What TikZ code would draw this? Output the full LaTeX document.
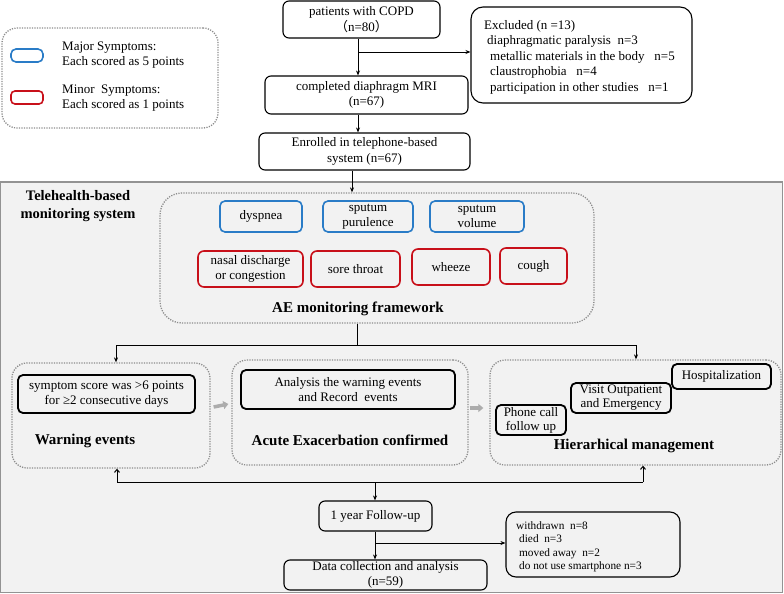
\documentclass[tikz,border=0pt]{standalone}
\usepackage{fontspec}
\setmainfont{Liberation Serif}
\newfontfamily\cjk{Noto Sans CJK SC}
\usetikzlibrary{arrows.meta}
\definecolor{mblue}{HTML}{2A7CC7}
\definecolor{mred}{HTML}{C8101A}
\definecolor{bggray}{HTML}{F2F2F2}
\definecolor{dotgray}{HTML}{8C8C8C}
\tikzset{
  bx/.style={draw=black, line width=1.1pt, rounded corners=6pt, inner sep=0pt, align=center, font=\fontsize{13}{15.5}\selectfont},
  bxk/.style={draw=black, line width=1.8pt, rounded corners=5pt, inner sep=0pt, align=center, font=\fontsize{13}{15.5}\selectfont},
  bb/.style={draw=mblue, line width=1.6pt, rounded corners=5pt, inner sep=0pt, align=center, font=\fontsize{13}{15.5}\selectfont},
  rb/.style={draw=mred, line width=1.6pt, rounded corners=6pt, inner sep=0pt, align=center, font=\fontsize{13}{15.5}\selectfont},
  frame/.style={draw=dotgray, line width=1.3pt, dash pattern=on 1.2pt off 1.3pt, rounded corners=#1, inner sep=0pt},
  hd/.style={font=\bfseries\fontsize{15}{17}\selectfont, inner sep=0pt, align=center},
  arr/.style={-{Stealth[length=5pt,width=4pt]}, line width=0.8pt},
  uarr/.style={-{Straight Barb[length=3pt,width=5pt]}, line width=1pt},
  garr/.style={line width=3.5pt, draw=gray!65, -{Triangle[length=5pt,width=8pt]}},
}
\begin{document}
\begin{tikzpicture}[x=1pt,y=-1pt]
\useasboundingbox (0,0) rectangle (784,594);
% gray area
\path[fill=bggray, draw=gray!85, line width=1.2pt] (0,182) rectangle (782.5,592.5);
% legend
\node[frame=15pt, minimum width=216pt, minimum height=100pt] (leg) at (110,78) {};
\node[bb, minimum width=32pt, minimum height=13pt] (lb) at (27,55.5) {};
\node[rb, minimum width=32pt, minimum height=13pt, rounded corners=4pt] (lr) at (27,97.5) {};
\node[anchor=west, align=left, inner sep=0pt, font=\fontsize{13}{15.5}\selectfont] (lbt) at (62,55) {Major Symptoms:\\Each scored as 5 points};
\node[anchor=west, align=left, inner sep=0pt, font=\fontsize{13}{15.5}\selectfont] (lrt) at (62,98) {Minor\ \ Symptoms:\\Each scored as 1 points};
% top flow
\node[bx, minimum width=157pt, minimum height=37pt] (copd) at (361.5,19.5) {patients with COPD\\{\cjk （}n=80{\cjk ）}};
\node[bx, rounded corners=12pt, minimum width=221pt, minimum height=96pt] (excl) at (581.5,55) {};
\node[anchor=west, inner sep=0pt, align=left, font=\fontsize{13}{15.5}\selectfont] (exclt) at (484,57) {Excluded (n =13)\\\hspace*{3pt}diaphragmatic paralysis\ \ n=3\\\hspace*{6pt}metallic materials in the body\ \ \ n=5\\\hspace*{6pt}claustrophobia\ \ \ n=4\\\hspace*{6pt}participation in other studies\ \ \ n=1};
\node[bx, minimum width=203pt, minimum height=38pt] (mri) at (366.5,95) {completed diaphragm MRI\\(n=67)};
\node[bx, minimum width=211pt, minimum height=37pt] (enr) at (364.5,151.5) {Enrolled in telephone-based\\system (n=67)};
\coordinate (ax) at (358,0);
\coordinate (ax2) at (352,0);
\coordinate (b1) at (358,52);
\draw[arr] (copd.south -| ax) -- (mri.north -| ax);
\draw[arr] (b1) -- (b1 -| excl.west);
\draw[arr] (mri.south -| ax) -- (enr.north -| ax);
% telehealth
\node[font=\bfseries\fontsize{14.5}{18}\selectfont, align=center, inner sep=0pt] (tele) at (78,206) {Telehealth-based\\monitoring system};
\node[frame=22pt, minimum width=434pt, minimum height=130pt] (ae) at (377,258) {};
\draw[arr] (enr.south -| ax2) -- (ae.north -| ax2);
\node[bb, minimum width=82pt, minimum height=31pt] (dysp) at (261,216.5) {dyspnea};
\node[bb, minimum width=90pt, minimum height=31pt, font=\fontsize{13}{14.5}\selectfont] (purul) at (368,216.5) {sputum\\purulence};
\node[bb, minimum width=94pt, minimum height=31pt, font=\fontsize{13}{14.5}\selectfont] (vol) at (477,216.5) {sputum\\volume};
\node[rb, minimum width=105pt, minimum height=36pt, font=\fontsize{13}{15}\selectfont] (nasal) at (250.5,269) {nasal discharge\\or congestion};
\node[rb, minimum width=89pt, minimum height=36pt] (sore) at (355.5,269) {sore throat};
\node[rb, minimum width=78pt, minimum height=36pt] (wheeze) at (451,267) {wheeze};
\node[rb, minimum width=67pt, minimum height=36pt] (cough) at (533.5,266) {cough};
\node[hd] (aet) at (358,309) {AE monitoring framework};
% middle
\node[frame=15pt, minimum width=198pt, minimum height=105pt] (warn) at (111,415.5) {};
\node[frame=15pt, minimum width=236pt, minimum height=105pt] (acute) at (350,412.5) {};
\node[frame=15pt, minimum width=291pt, minimum height=105pt] (hier) at (635.5,412.5) {};
\coordinate (j1) at (357,345);
\coordinate (wl) at (116,345);
\coordinate (hr) at (636,345);
\draw[line width=0.8pt] (ae.south -| j1) -- (j1);
\draw[line width=0.8pt] (wl) -- (hr);
\draw[arr] (wl) -- (wl |- warn.north);
\draw[arr] (hr) -- (hr |- hier.north);
\node[bxk, minimum width=177pt, minimum height=38pt, font=\fontsize{13}{15.5}\selectfont] (wbox) at (106.5,394) {symptom score was >6 points\\for ≥2 consecutive days};
\node[hd] (wt) at (85,441) {Warning events};
\node[bxk, minimum width=214pt, minimum height=39pt, font=\fontsize{13}{15.5}\selectfont] (abox) at (348,389.5) {Analysis the warning events\\and Record\ \ events};
\node[hd] (at) at (350,440) {Acute Exacerbation confirmed};
\node[bxk, minimum width=70pt, minimum height=30pt, font=\fontsize{13}{14}\selectfont] (phone) at (531,420) {Phone call\\follow up};
\node[bxk, minimum width=100pt, minimum height=30pt, font=\fontsize{13}{14}\selectfont] (visit) at (621,398) {Visit Outpatient\\and Emergency};
\node[bxk, minimum width=99pt, minimum height=25pt] (hosp) at (721.5,376.5) {Hospitalization};
\node[hd] (ht) at (634,446) {Hierarhical management};
\draw[garr] ([xshift=3pt,yshift=8.5pt]warn.east) -- ([xshift=-3pt,yshift=8.5pt]acute.west);
\draw[garr] ([xshift=1pt,yshift=4.5pt]acute.east) -- ([xshift=-6pt,yshift=4.5pt]hier.west);
% bottom
\coordinate (j2) at (375,482);
\coordinate (wb) at (117,482);
\coordinate (hb) at (643,482);
\draw[line width=0.8pt] (wb) -- (hb);
\draw[uarr] (wb) -- (wb |- warn.south);
\draw[uarr] (hb) -- (hb |- hier.south);
\node[bx, minimum width=113pt, minimum height=30pt] (follow) at (375.5,516) {1 year Follow-up};
\draw[arr] (j2) -- (j2 |- follow.north);
\node[bx, rounded corners=10pt, minimum width=174pt, minimum height=65pt] (wd) at (593,544.5) {};
\node[anchor=west, inner sep=0pt, align=left, font=\fontsize{11.3}{13.5}\selectfont] (wdt) at (516,547) {withdrawn\ \ n=8\\\hspace*{3pt}died\ \ n=3\\\hspace*{3pt}moved away\ \ n=2\\\hspace*{3pt}do not use smartphone n=3};
\node[bx, minimum width=203pt, minimum height=30pt, font=\fontsize{13}{15}\selectfont] (data) at (385.5,575) {Data collection and analysis\\(n=59)};
\coordinate (j3) at (375,543);
\draw[arr] (follow.south -| j2) -- (data.north -| j2);
\draw[arr] (j3) -- (j3 -| wd.west);
\end{tikzpicture}
\end{document}
